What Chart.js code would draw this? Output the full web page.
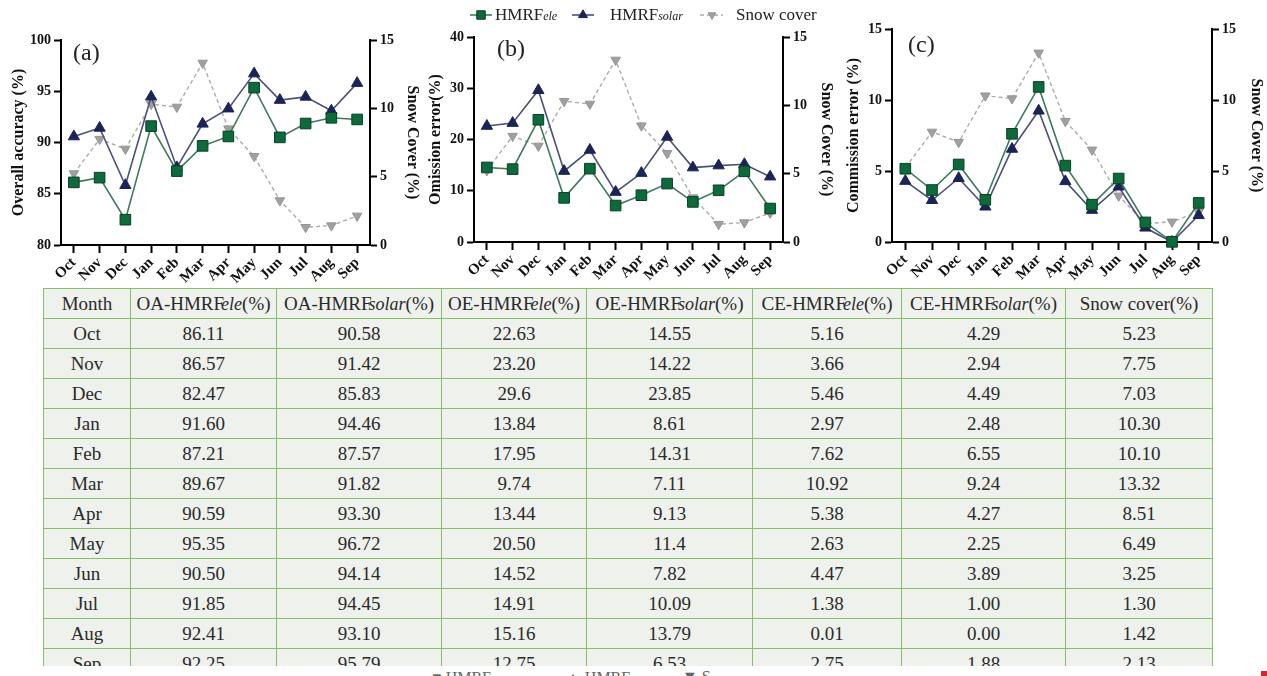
<!DOCTYPE html>
<html><head><meta charset="utf-8">
<script src="https://cdn.jsdelivr.net/npm/chart.js@4/dist/chart.umd.min.js"></script>
<style>
html,body{margin:0;padding:0;background:#fff;width:1267px;height:676px;overflow:hidden;position:relative;font-family:"Liberation Serif","Times New Roman",serif;}
canvas{position:absolute;top:0;}
.panel{position:absolute;font-size:24px;color:#222;line-height:24px;}
#tblwrap{position:absolute;left:43px;top:288px;width:1174px;height:378px;overflow:hidden;}
table{border-collapse:collapse;table-layout:fixed;background:#eef1ec;color:#2a2a2a;font-size:19px;font-family:"Liberation Serif","Times New Roman",serif;}
td{border:1.5px solid #86c06a;padding:0;text-align:center;line-height:1;white-space:nowrap;}
tr{height:30px;}
td i{margin-left:-3px;font-size:18px;}
#strip{position:absolute;left:415px;top:666px;width:752px;height:10px;background:#fff;overflow:hidden;}
#strip span{position:absolute;top:4px;font-size:16px;color:#666;line-height:16px;}
#red{position:absolute;left:1261px;top:671px;width:6px;height:5px;background:#e02424;}
</style></head>
<body>
<canvas id="ca" width="430" height="288" style="left:0px"></canvas>
<canvas id="cb" width="420" height="288" style="left:420px"></canvas>
<canvas id="cc" width="427" height="288" style="left:840px"></canvas>
<div class="panel" style="left:73px;top:40px">(a)</div>
<div class="panel" style="left:497px;top:36px">(b)</div>
<div class="panel" style="left:908px;top:32px">(c)</div>
<div id="tblwrap"><table id="tbl"></table></div>
<div id="strip"><span style="left:17px">■ HMRF</span><span style="left:150px">▲ HMRF</span><span style="left:267px;top:3px">▼ S</span></div>
<div id="red"></div>
<script>
const months = ['Oct','Nov','Dec','Jan','Feb','Mar','Apr','May','Jun','Jul','Aug','Sep'];
const oaEle   = ['86.11','86.57','82.47','91.60','87.21','89.67','90.59','95.35','90.50','91.85','92.41','92.25'];
const oaSolar = ['90.58','91.42','85.83','94.46','87.57','91.82','93.30','96.72','94.14','94.45','93.10','95.79'];
const oeEleCol   = ['22.63','23.20','29.6','13.84','17.95','9.74','13.44','20.50','14.52','14.91','15.16','12.75'];
const oeSolarCol = ['14.55','14.22','23.85','8.61','14.31','7.11','9.13','11.4','7.82','10.09','13.79','6.53'];
const ceEle   = ['5.16','3.66','5.46','2.97','7.62','10.92','5.38','2.63','4.47','1.38','0.01','2.75'];
const ceSolar = ['4.29','2.94','4.49','2.48','6.55','9.24','4.27','2.25','3.89','1.00','0.00','1.88'];
const snow    = ['5.23','7.75','7.03','10.30','10.10','13.32','8.51','6.49','3.25','1.30','1.42','2.13'];
const headers = ['Month','OA-HMRF|ele|(%)','OA-HMRF|solar|(%)','OE-HMRF|ele|(%)','OE-HMRF|solar|(%)','CE-HMRF|ele|(%)','CE-HMRF|solar|(%)','Snow cover(%)'];
const colWidths = [87,146,165,145,166,149,164,147];

// ---- table ----
const tbl = document.getElementById('tbl');
let html = '<colgroup>' + colWidths.map(w => '<col style="width:' + w + 'px">').join('') + '</colgroup>';
html += '<tr>' + headers.map(h => {
  const p = h.split('|');
  return '<td>' + (p.length === 3 ? p[0] + '<i>' + p[1] + '</i>' + p[2] : h) + '</td>';
}).join('') + '</tr>';
const cols = [months, oaEle, oaSolar, oeEleCol, oeSolarCol, ceEle, ceSolar, snow];
months.forEach((m, i) => { html += '<tr>' + cols.map(c => '<td>' + c[i] + '</td>').join('') + '</tr>'; });
tbl.innerHTML = html;

// ---- charts ----
Chart.defaults.font.family = '"Liberation Serif","Times New Roman",serif';
const num = a => a.map(Number);
const GREEN_LINE = '#3f7a5c', GREEN_FILL = '#0d6a3a', GREEN_EDGE = '#0a3f24';
const NAVY_LINE = '#4b5077', NAVY_FILL = '#1b2457';
const SNOW_LINE = '#ababab', SNOW_FILL = '#a0a0a0';
const tickFont = {family:'"Liberation Serif",serif', weight:'bold', size:14};
const xTickFont = {family:'"Liberation Serif",serif', weight:'bold', size:15};
const titleFont = {family:'"Liberation Serif",serif', weight:'bold', size:16};

function eleDs(d){ return {data:num(d), yAxisID:'y', borderColor:GREEN_LINE, borderWidth:1.6, backgroundColor:GREEN_FILL,
  pointBackgroundColor:GREEN_FILL, pointBorderColor:GREEN_EDGE, pointBorderWidth:1, pointStyle:'rect', pointRadius:7.5, clip:false, tension:0}; }
function solDs(d){ return {data:num(d), yAxisID:'y', borderColor:NAVY_LINE, borderWidth:1.6, backgroundColor:NAVY_FILL,
  pointBackgroundColor:NAVY_FILL, pointBorderColor:NAVY_FILL, pointBorderWidth:1, pointStyle:'triangle', pointRadius:6.5, clip:false, tension:0}; }
function snowDs(d){ return {data:num(d), yAxisID:'y1', borderColor:SNOW_LINE, borderWidth:1.4, borderDash:[4,3], backgroundColor:SNOW_FILL,
  pointBackgroundColor:SNOW_FILL, pointBorderColor:'#959595', pointBorderWidth:1, pointStyle:'triangle', pointRotation:180, pointRadius:5.5, clip:false, tension:0}; }

function axisGrid(){ return {display:true, drawOnChartArea:false, drawTicks:true, tickLength:7, tickWidth:2, tickColor:'#000'}; }

function build(id, cfg){
  return new Chart(document.getElementById(id), {
    type:'line',
    data:{labels:months, datasets:[eleDs(cfg.ele), solDs(cfg.sol), snowDs(snow)]},
    options:{
      responsive:false, animation:false, devicePixelRatio:1,
      layout:{padding:{top:cfg.top, left:0, right:0, bottom:0}},
      plugins:{legend:{display:false}, tooltip:{enabled:false}},
      scales:{
        x:{type:'category', offset:true,
           grid:{display:true, offset:false, drawOnChartArea:false, drawTicks:true, tickLength:8, tickWidth:2, tickColor:'#000'},
           border:{display:true, color:'#000', width:2},
           ticks:{font:xTickFont, color:'#111', maxRotation:45, minRotation:45, autoSkip:false, padding:1},
           afterFit:s=>{ s.height = cfg.xh; }},
        y:{position:'left', min:cfg.yMin, max:cfg.yMax,
           ticks:{stepSize:cfg.yStep, font:tickFont, color:'#111', padding:3},
           grid:axisGrid(), border:{display:true, color:'#000', width:2},
           title:{display:true, text:cfg.yTitle, font:titleFont, color:'#111', padding:{top:cfg.ltp, bottom:0}},
           afterFit:s=>{ s.width = cfg.lw; }},
        y1:{position:'right', min:0, max:15,
           ticks:{stepSize:5, font:tickFont, color:'#111', padding:3},
           grid:axisGrid(), border:{display:true, color:'#000', width:2},
           title:{display:true, text:'Snow Cover (%)', font:titleFont, color:'#111', padding:{top:cfg.rtp, bottom:0}},
           afterFit:s=>{ s.width = cfg.rw; }}
      }
    },
    plugins: cfg.plugins || []
  });
}

// custom legend drawn on panel (b)
const legendPlugin = {
  id:'panelLegend',
  afterDraw(chart){
    const ctx = chart.ctx, y = 15;
    const ds = chart.data.datasets;
    const items = [
      {d:ds[0], x0:50, x1:72, mx:61, tx:75, main:'HMRF', sub:'ele'},
      {d:ds[1], x0:152, x1:174, mx:163, tx:190, main:'HMRF', sub:'solar'},
      {d:ds[2], x0:280, x1:303, mx:292, tx:316, main:'Snow cover', sub:''}
    ];
    ctx.save();
    items.forEach(it => {
      ctx.strokeStyle = it.d.borderColor; ctx.lineWidth = it.d.borderWidth;
      ctx.setLineDash(it.d.borderDash || []);
      ctx.beginPath(); ctx.moveTo(it.x0, y); ctx.lineTo(it.x1, y); ctx.stroke();
      ctx.setLineDash([]);
      ctx.fillStyle = it.d.pointBackgroundColor; ctx.strokeStyle = it.d.pointBorderColor; ctx.lineWidth = 1;
      Chart.helpers.drawPoint(ctx, {pointStyle:it.d.pointStyle, radius:it.d.pointRadius*0.8, rotation:it.d.pointRotation||0, borderWidth:1}, it.mx, y);
      ctx.fillStyle = '#222'; ctx.textBaseline = 'middle'; ctx.textAlign = 'left';
      ctx.font = '17px "Liberation Serif",serif';
      ctx.fillText(it.main, it.tx, y + 1);
      if (it.sub){
        const w = ctx.measureText(it.main).width;
        ctx.font = 'italic 12px "Liberation Serif",serif';
        ctx.fillText(it.sub, it.tx + w, y + 2);
      }
    });
    ctx.restore();
  }
};

build('ca', {ele:oaEle, sol:oaSolar, top:40, xh:43, yMin:80, yMax:100, yStep:5, yTitle:'Overall accuracy (%)', lw:61, rw:60, ltp:9, rtp:8});
build('cb', {ele:oeSolarCol, sol:oeEleCol, top:37, xh:46, yMin:0, yMax:40, yStep:10, yTitle:'Omission error(%)', lw:54, rw:57, ltp:6, rtp:4, plugins:[legendPlugin]});
build('cc', {ele:ceEle, sol:ceSolar, top:29, xh:46, yMin:0, yMax:15, yStep:5, yTitle:'Commission error (%)', lw:52, rw:55, ltp:4, rtp:1});
</script>
</body></html>
